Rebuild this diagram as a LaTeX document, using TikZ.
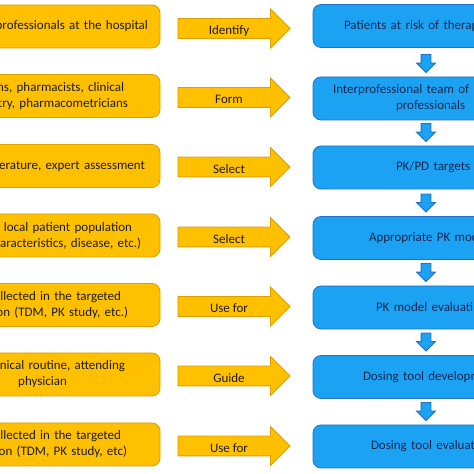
\documentclass[tikz,border=0pt]{standalone}
\usepackage{fontspec}
\setmainfont{Carlito}
\usepackage{xcolor}
\usepackage{tikz}
\usetikzlibrary{shapes,arrows,positioning,calc}
\definecolor{boxgold}{RGB}{255, 192, 0}
\definecolor{goldedge}{RGB}{222, 160, 0}
\definecolor{stepblue}{RGB}{28, 162, 242}
\definecolor{blueedge}{RGB}{36, 112, 196}
\definecolor{navytext}{RGB}{18, 38, 82}
\definecolor{darktext}{RGB}{28, 28, 28}
\newcommand{\padgap}[1]{\hbox to #1{}}
\tikzset{
    boxfont/.style={font=\fontsize{13pt}{16pt}\selectfont},
    srcbox/.style={draw=goldedge, line width=0.8pt, rectangle, rounded corners=8pt, fill=boxgold, text=darktext,
        minimum width=236pt, minimum height=43pt, text width=224pt, inner xsep=6pt, align=right, boxfont},
    resbox/.style={draw=blueedge, line width=0.8pt, rectangle, rounded corners=8pt, fill=stepblue, text=navytext,
        minimum width=230pt, minimum height=43pt, text width=218pt, inner xsep=6pt, align=left, boxfont},
    actarrow/.style={draw=goldedge, line width=0.8pt, fill=boxgold, single arrow, single arrow head extend=9.5pt,
        minimum height=112pt, text height=13.5pt, text depth=1pt, inner xsep=0pt, inner ysep=2.25pt,
        text=darktext, boxfont},
    downarrow/.style={draw=blueedge, line width=0.8pt, fill=stepblue, single arrow, shape border rotate=270,
        single arrow head extend=4.5pt, minimum height=18pt, inner sep=4.5pt}
}
\begin{document}
\begin{tikzpicture}[x=1pt, y=1pt]
    \useasboundingbox (0,0) rectangle (474,474);
    \clip (0,0) rectangle (474,474);
    % Identify
    \node[srcbox] (src1) at (42,447.5) {professionals at the hospital\padgap{6pt}};
    \node[actarrow] (act1) at (229,445.5) {Identify};
    \node[resbox] (res1) at (428,448) {\hspace*{25pt}Patients at risk of therap};
    % Form
    \node[srcbox] (src2) at (42,378) {ns, pharmacists, clinical\padgap{30pt}\\try, pharmacometricians\padgap{26pt}};
    \node[actarrow] (act2) at (229,376.5) {Form};
    \node[resbox] (res2) at (428,375.5) {\hspace*{14pt}Interprofessional team of h\\\hspace*{77pt}professionals};
    % Select targets
    \node[srcbox] (src3) at (42,308) {erature, expert assessment\padgap{9pt}};
    \node[actarrow] (act3) at (229,307) {Select};
    \node[resbox] (res3) at (428,306.5) {\hspace*{77pt}PK/PD targets};
    % Select model
    \node[srcbox] (src4) at (42,238.5) {local patient population\padgap{22pt}\\aracteristics, disease, etc.)\padgap{13pt}};
    \node[actarrow] (act4) at (229,237) {Select};
    \node[resbox] (res4) at (428,236) {\hspace*{50pt}Appropriate PK mod};
    % Model evaluation
    \node[srcbox] (src5) at (42,169) {ollected in the targeted\padgap{33pt}\\on (TDM, PK study, etc.)\padgap{26pt}};
    \node[actarrow] (act5) at (229,167.5) {Use for};
    \node[resbox] (res5) at (428,166.5) {\hspace*{57pt}PK model evaluati};
    % Tool development
    \node[srcbox] (src6) at (42,99.5) {nical routine, attending\padgap{29pt}\\physician\padgap{87pt}};
    \node[actarrow] (act6) at (229,98) {Guide};
    \node[resbox] (res6) at (428,97) {\hspace*{44pt}Dosing tool developm};
    % Tool evaluation
    \node[srcbox] (src7) at (42,29.5) {llected in the targeted\padgap{33pt}\\ion (TDM, PK study, etc)\padgap{27pt}};
    \node[actarrow] (act7) at (229,28) {Use for};
    \node[resbox] (res7) at (428,27.5) {\hspace*{52pt}Dosing tool evaluat};
    % Steps between results
    \node[downarrow] (down1) at ([xshift=-2pt, yshift=15.5pt]res2.north) {};
    \node[downarrow] (down2) at ([xshift=-2pt, yshift=15.5pt]res3.north) {};
    \node[downarrow] (down3) at ([xshift=-2pt, yshift=15.5pt]res4.north) {};
    \node[downarrow] (down4) at ([xshift=-2pt, yshift=15.5pt]res5.north) {};
    \node[downarrow] (down5) at ([xshift=-2pt, yshift=15.5pt]res6.north) {};
    \node[downarrow] (down6) at ([xshift=-2pt, yshift=15.5pt]res7.north) {};
\end{tikzpicture}
\end{document}
